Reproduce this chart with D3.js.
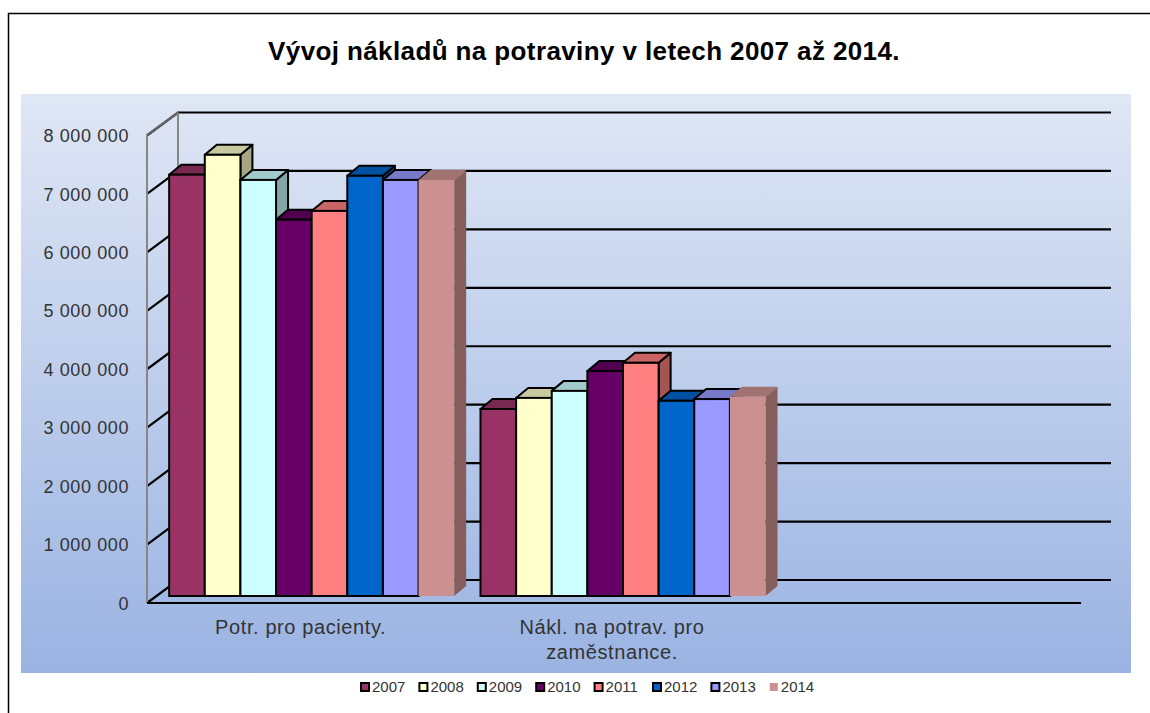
<!DOCTYPE html>
<html><head><meta charset="utf-8">
<script src="https://cdn.jsdelivr.net/npm/d3@7"></script>
<style>html,body{margin:0;padding:0;background:#fff}svg{display:block}text{font-family:"Liberation Sans",Arial,sans-serif}</style>
</head><body><svg id="c" width="1150" height="713"></svg>
<script>
const titleText = "Vývoj nákladů na potraviny v letech 2007 až 2014.";
const years = ["2007","2008","2009","2010","2011","2012","2013","2014"];
const categories = ["Potr. pro pacienty.","Nákl. na potrav. pro zaměstnance.",""];
const pacienty = [7210000,7550000,7120000,6440000,6590000,7190000,7120000,7120000];
const zamestnanci = [3200000,3390000,3510000,3850000,3990000,3340000,3370000,3410000];
const seriesRows = [pacienty, zamestnanci];
const colors = ["#993366","#ffffcc","#ccffff","#660066","#ff8080","#0066cc","#9999ff","#cc9090"];
const borders = ["#000","#000","#000","#000","#000","#000","#000","none"];
const yTicks = [0,1000000,2000000,3000000,4000000,5000000,6000000,7000000,8000000];

const svg = d3.select("#c");
const defs = svg.append("defs");
const g = defs.append("linearGradient").attr("id","bg").attr("x1",0).attr("x2",0).attr("y1",0).attr("y2",1);
g.append("stop").attr("offset","0%").attr("stop-color","#e0e7f5");
g.append("stop").attr("offset","100%").attr("stop-color","#9ab3e2");

// outer frame
svg.append("path").attr("d","M8.5,713V13.5H1150").attr("fill","none").attr("stroke","#000").attr("stroke-width",1.5);
// plot background
svg.append("rect").attr("x",21).attr("y",94).attr("width",1110).attr("height",579).attr("fill","url(#bg)");
// title
svg.append("text").attr("x",584).attr("y",60).attr("text-anchor","middle")
  .attr("font-size",26).attr("font-weight","bold").attr("fill","#000").attr("letter-spacing",0.39).text(titleText);

const x0 = 147, x1 = 1081, floorY = 603, wallDx = 31, wallDy = -23;
const y = d3.scaleLinear().domain([0,8000000]).range([floorY,floorY-467.5]);
const xBand = d3.scaleBand().domain(categories).range([x0,x1]);
const barInDx = 9, barInDy = -7, depthDx = 12, depthDy = -10;
const xBar = d3.scaleBand().domain(years).range([0,285]);

// walls and gridlines
const gridG = svg.append("g");
yTicks.forEach(t=>{
  const yy = y(t);
  const isTop = t===8000000;
  gridG.append("path").attr("d",`M${x0},${yy}L${x0+wallDx},${yy+wallDy}H1111`)
    .attr("fill","none").attr("stroke","#000").attr("stroke-width",2.2);
  if(isTop) gridG.append("line").attr("x1",x0).attr("y1",yy).attr("x2",x0+wallDx).attr("y2",yy+wallDy)
    .attr("stroke","#666").attr("stroke-width",2.2);
});
gridG.append("line").attr("x1",x0).attr("x2",x0).attr("y1",y(8000000)).attr("y2",floorY).attr("stroke","#868686").attr("stroke-width",2);
gridG.append("line").attr("x1",x0+wallDx).attr("x2",x0+wallDx).attr("y1",y(8000000)+wallDy).attr("y2",floorY+wallDy).attr("stroke","#868686").attr("stroke-width",2);
gridG.append("line").attr("x1",x0).attr("x2",x1).attr("y1",floorY).attr("y2",floorY).attr("stroke","#000").attr("stroke-width",2.2);

// y tick labels
const fmt = v => d3.format(",")(v).replace(/,/g," ");
const axis = d3.axisLeft(y).tickValues(yTicks).tickFormat(fmt).tickSize(0).tickPadding(18);
const ax = svg.append("g").attr("transform",`translate(${x0},0)`).call(axis);
ax.select(".domain").remove();
ax.selectAll("text").attr("font-size",18).attr("fill","#333").attr("letter-spacing",0.6)
  .attr("font-family",'"Liberation Sans",Arial,sans-serif').attr("dy","0.34em");

// bars
categories.slice(0,2).forEach((cat,ci)=>{
  const groupX = xBand(cat) + xBand.bandwidth()/2 - 142.5 + barInDx;
  const base = barInDy;
  years.forEach((yr,i)=>{
    const v = seriesRows[ci][i];
    const bx = groupX + xBar(yr), w = xBar.bandwidth();
    const top = y(v)+base, bot = floorY+base;
    const c = d3.color(colors[i]);
    const shade = f => d3.rgb(c.r*f,c.g*f,c.b*f).formatHex();
    const st = borders[i], sw = st==="none"?0:2;
    const b = svg.append("g");
    b.append("path").attr("d",`M${bx+w},${top}l${depthDx},${depthDy}V${bot+depthDy}l${-depthDx},${-depthDy}Z`)
      .attr("fill",shade(0.65)).attr("stroke",st).attr("stroke-width",sw).attr("stroke-linejoin","round");
    b.append("path").attr("d",`M${bx},${top}l${depthDx},${depthDy}h${w}l${-depthDx},${-depthDy}Z`)
      .attr("fill",shade(0.79)).attr("stroke",st).attr("stroke-width",sw).attr("stroke-linejoin","round");
    b.append("rect").attr("x",bx).attr("y",top).attr("width",w).attr("height",bot-top)
      .attr("fill",colors[i]).attr("stroke",st).attr("stroke-width",sw);
  });
});

// category labels
const catLines = [["Potr. pro pacienty."],["Nákl. na potrav. pro","zaměstnance."]];
catLines.forEach((lines,ci)=>{
  const cx = xBand(categories[ci]) + xBand.bandwidth()/2 - 2;
  lines.forEach((s,li)=>{
    svg.append("text").attr("x",cx).attr("y",634+li*25).attr("text-anchor","middle")
      .attr("font-size",20).attr("letter-spacing",0.6).attr("fill","#333").text(s);
  });
});

// legend
const lx = d3.scaleBand().domain(years).range([360,360+58.4*8]);
years.forEach((yr,i)=>{
  const xx = lx(yr);
  svg.append("rect").attr("x",xx+1).attr("y",683).attr("width",8).attr("height",8)
    .attr("fill",colors[i]).attr("stroke",borders[i]).attr("stroke-width",borders[i]==="none"?0:2);
  svg.append("text").attr("x",xx+12).attr("y",692).attr("font-size",15).attr("fill","#333").text(yr);
});
</script></body></html>
